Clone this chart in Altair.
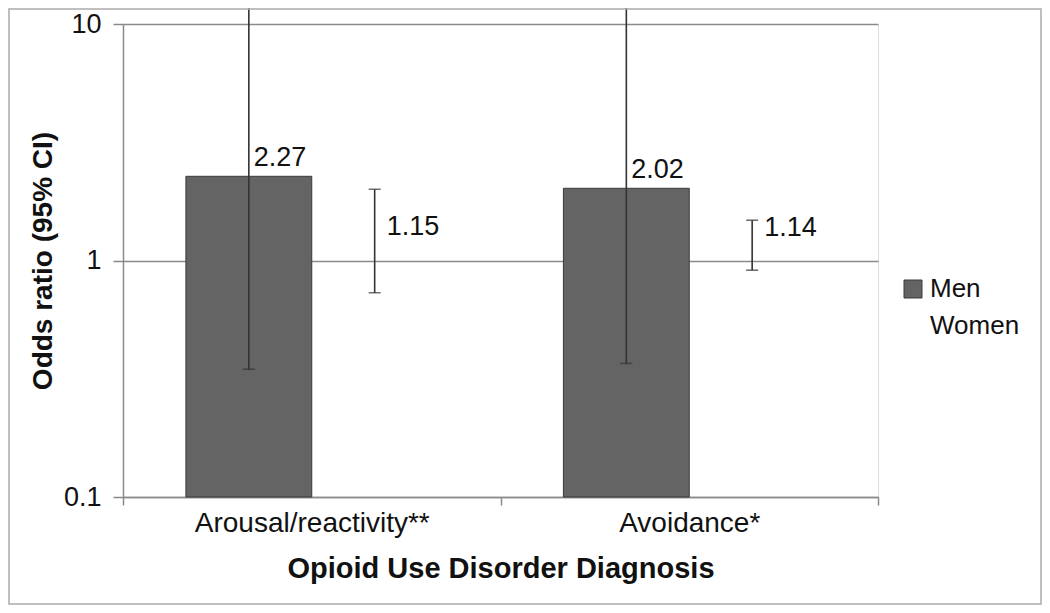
import altair as alt
import pandas as pd

categories = ["Arousal/reactivity**", "Avoidance*"]
groups = ["Men", "Women"]
men_or = [2.27, 2.02]
men_lo = [0.347, 0.367]
men_hi = [14.9, 13.6]
women_or = [1.15, 1.14]
women_lo = [0.73, 0.91]
women_hi = [2.0, 1.48]

rows = []
for i, c in enumerate(categories):
    rows.append({"category": c, "sex": "Men", "or": men_or[i], "lo": men_lo[i], "hi": men_hi[i], "label": f"{men_or[i]:.2f}"})
    rows.append({"category": c, "sex": "Women", "or": women_or[i], "lo": women_lo[i], "hi": women_hi[i], "label": f"{women_or[i]:.2f}"})
df = pd.DataFrame(rows)

FONT = "Liberation Sans"
W, H = 755, 473

x_enc = alt.X(
    "category:N",
    sort=categories,
    scale=alt.Scale(paddingInner=0, paddingOuter=0),
    axis=alt.Axis(
        title="Opioid Use Disorder Diagnosis",
        labelAngle=0,
        labelLimit=0,
        tickBand="extent",
        tickSize=8,
        tickColor="#8a8a8a",
        tickWidth=1.5,
        domainColor="#8a8a8a",
        domainWidth=1.5,
        labelFontSize=28,
        labelFont=FONT,
        labelColor="#111",
        labelPadding=4,
        titleFontSize=29,
        titleFont=FONT,
        titleFontWeight="bold",
        titleColor="#111",
        titlePadding=17,
    ),
)
xo_enc = alt.XOffset("sex:N", sort=groups, scale=alt.Scale(paddingInner=0, paddingOuter=0.5))
y_scale = alt.Scale(type="log", domain=[0.1, 10], nice=False)
y_enc = alt.Y(
    "or:Q",
    scale=y_scale,
    axis=alt.Axis(
        title="Odds ratio (95% CI)",
        values=[0.1, 1, 10],
        format="~g",
        grid=True,
        gridColor="#8a8a8a",
        gridWidth=1.5,
        tickSize=10,
        tickColor="#8a8a8a",
        tickWidth=1.5,
        domainColor="#8a8a8a",
        domainWidth=1.5,
        labelFontSize=27,
        labelFont=FONT,
        labelColor="#111",
        labelPadding=12,
        titleFontSize=28,
        titleFont=FONT,
        titleFontWeight="bold",
        titleColor="#111",
        titlePadding=6,
    ),
)

legend = alt.Legend(
    title=None,
    orient="none",
    legendX=777,
    legendY=252,
    symbolType="square",
    symbolSize=324,
    symbolStrokeWidth=1,
    labelFontSize=26,
    labelFont=FONT,
    labelColor="#111",
    labelOffset=4,
    rowPadding=11,
)

base = alt.Chart(df)

bars = base.mark_bar(strokeWidth=1).encode(
    x=x_enc,
    xOffset=xo_enc,
    y=y_enc,
    y2=alt.datum(0.1),
    fill=alt.Fill("sex:N", sort=groups, scale=alt.Scale(domain=groups, range=["#646464", "rgba(0,0,0,0)"]), legend=legend),
    stroke=alt.Stroke("sex:N", sort=groups, scale=alt.Scale(domain=groups, range=["#3a3a3a", "rgba(0,0,0,0)"]), legend=legend),
)

rules = base.mark_rule(color="#333", strokeWidth=1.6, clip=False).encode(
    x="category:N", xOffset="sex:N", y=alt.Y("lo:Q", scale=y_scale), y2="hi:Q"
)
caps_lo = base.mark_tick(color="#333", thickness=1.6, size=12, orient="horizontal", clip=False).encode(
    x="category:N", xOffset="sex:N", y=alt.Y("lo:Q", scale=y_scale)
)
caps_hi = base.mark_tick(color="#333", thickness=1.6, size=12, orient="horizontal", clip=False).encode(
    x="category:N", xOffset="sex:N", y=alt.Y("hi:Q", scale=y_scale)
)

text_men = base.transform_filter(alt.datum.sex == "Men").mark_text(
    align="left", baseline="alphabetic", dx=5, dy=-10, fontSize=27, font=FONT, color="#111"
).encode(x="category:N", xOffset="sex:N", y=alt.Y("or:Q", scale=y_scale), text="label:N")
text_women = base.transform_filter(alt.datum.sex == "Women").mark_text(
    align="left", baseline="alphabetic", dx=12, dy=-11, fontSize=27, font=FONT, color="#111"
).encode(x="category:N", xOffset="sex:N", y=alt.Y("or:Q", scale=y_scale), text="label:N")

frame = alt.Chart(alt.Data(values=[{}])).mark_rect(
    fill=None, stroke="#aaaaaa", strokeWidth=1.5, clip=False
).encode(
    x=alt.value(-114), x2=alt.value(918), y=alt.value(-15), y2=alt.value(580)
)

chart = alt.layer(bars, rules, caps_lo, caps_hi, text_men, text_women, frame).properties(
    width=W,
    height=H,
    autosize=alt.AutoSizeParams(type="none"),
    padding={"left": 115, "top": 16, "right": 164, "bottom": 108},
).configure_view(
    stroke="#8a8a8a", strokeWidth=1.5
).configure(
    background="white"
)

chart.save("out.html", embed_options={"renderer": "svg", "actions": False})
